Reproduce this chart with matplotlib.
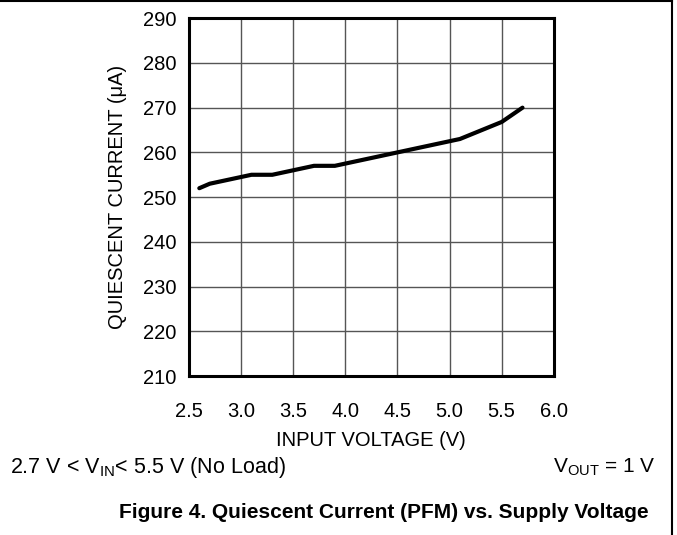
import matplotlib
matplotlib.use('Agg')
import matplotlib.pyplot as plt
from matplotlib import rcParams

rcParams['font.family'] = ['Liberation Sans', 'DejaVu Sans']

# data
v_in = [2.6, 2.7, 3.1, 3.3, 3.7, 3.9, 4.5, 5.1, 5.5, 5.7]
i_q = [252, 253, 255, 255, 257, 257, 260, 263, 266.8, 270]

x_ticks = [2.5, 3.0, 3.5, 4.0, 4.5, 5.0, 5.5, 6.0]
y_ticks = [210, 220, 230, 240, 250, 260, 270, 280, 290]

fig = plt.figure(figsize=(6.77, 5.35), dpi=100)
ax = fig.add_axes([0.279, 0.297, 0.539, 0.669])

ax.plot(v_in, i_q, color='black', linewidth=3.0, solid_capstyle='round')

ax.set_xlim(2.5, 6.0)
ax.set_ylim(210, 290)
ax.set_xticks(x_ticks)
ax.set_xticklabels(['%.1f' % t for t in x_ticks])
ax.set_yticks(y_ticks)
ax.tick_params(length=0, labelsize=14.5)
ax.tick_params(axis='x', pad=19)
ax.tick_params(axis='y', pad=9)
ax.grid(True, color='#555555', linewidth=1.0)
for s in ax.spines.values():
    s.set_linewidth(2.2)

ax.set_xlabel('INPUT VOLTAGE (V)', fontsize=14.5)
ax.xaxis.set_label_coords(0.5, -0.152)
ax.set_ylabel('QUIESCENT CURRENT (\u03bcA)', fontsize=14.5)
ax.yaxis.set_label_coords(-0.17, 0.5)

# annotations under the plot
fig.text(10 / 677, 1 - 467 / 535, r'2.7 V < V$_{\mathregular{IN}}$< 5.5 V (No Load)',
         fontsize=15.5, ha='left', va='center')
fig.text(656 / 677, 1 - 467 / 535, r'V$_{\mathregular{OUT}}$ = 1 V',
         fontsize=15, ha='right', va='center')
fig.text(384 / 677, 1 - 513 / 535, 'Figure 4. Quiescent Current (PFM) vs. Supply Voltage',
         fontsize=15, fontweight='bold', ha='center', va='center')

# frame lines: top and right edge
fig.add_artist(plt.Line2D([0, 672 / 677], [1 - 1 / 535, 1 - 1 / 535], color='black', linewidth=1.5))
fig.add_artist(plt.Line2D([672 / 677, 672 / 677], [0, 1 - 1 / 535], color='black', linewidth=1.5))

fig.savefig('out.png', dpi=100)
